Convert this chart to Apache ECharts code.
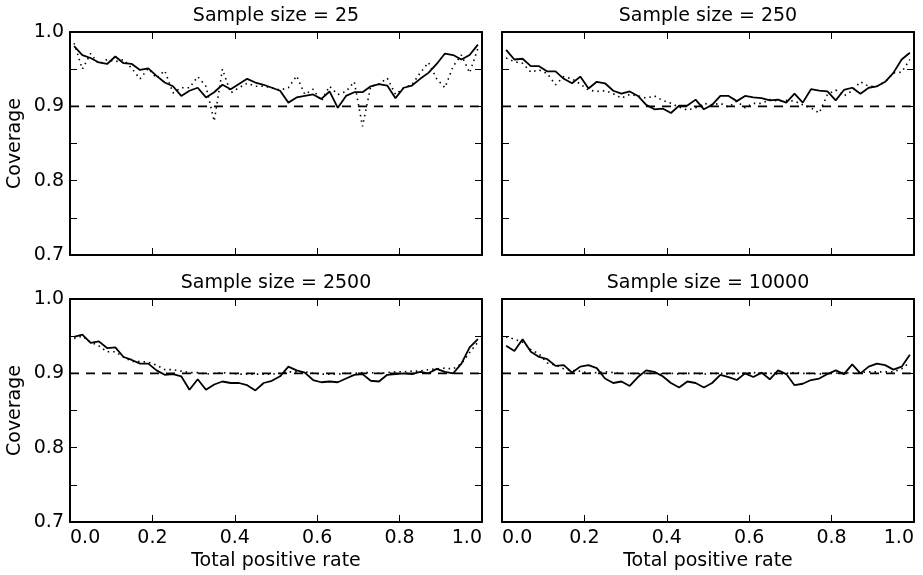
<!DOCTYPE html>
<html>
<head>
<meta charset="utf-8">
<script src="https://cdn.jsdelivr.net/npm/echarts@6/dist/echarts.min.js"></script>
<style>
  html, body { margin: 0; padding: 0; background: #fff; }
  #chart { width: 923px; height: 575px; }
</style>
</head>
<body>
<div id="chart"></div>
<script>
// total positive rate (x values)
const rate = [0.01, 0.03, 0.05, 0.07, 0.09, 0.11, 0.13, 0.15, 0.17, 0.19,
  0.21, 0.23, 0.25, 0.27, 0.29, 0.31, 0.33, 0.35, 0.37, 0.39,
  0.41, 0.43, 0.45, 0.47, 0.49, 0.51, 0.53, 0.55, 0.57, 0.59,
  0.61, 0.63, 0.65, 0.67, 0.69, 0.71, 0.73, 0.75, 0.77, 0.79,
  0.81, 0.83, 0.85, 0.87, 0.89, 0.91, 0.93, 0.95, 0.97, 0.99];

const sampleSizes = ['25', '250', '2500', '10000'];
const nominal = 0.9;
const xTicks = [0, 0.2, 0.4, 0.6, 0.8, 1.0];
const yTicks = [0.7, 0.8, 0.9, 1.0];

// coverage, sample size 25
const s25Solid = [0.981, 0.969, 0.965, 0.959, 0.957, 0.967, 0.958, 0.957, 0.949, 0.951,
  0.941, 0.932, 0.927, 0.914, 0.921, 0.925, 0.912, 0.919, 0.929, 0.923,
  0.930, 0.937, 0.932, 0.929, 0.925, 0.921, 0.905, 0.912, 0.914, 0.916,
  0.910, 0.920, 0.898, 0.914, 0.919, 0.919, 0.927, 0.930, 0.928, 0.911,
  0.925, 0.928, 0.937, 0.945, 0.957, 0.971, 0.969, 0.963, 0.969, 0.983];
const s25Dotted = [0.985, 0.950, 0.971, 0.957, 0.963, 0.960, 0.963, 0.951, 0.937, 0.951,
  0.938, 0.948, 0.918, 0.925, 0.925, 0.940, 0.927, 0.880, 0.950, 0.918,
  0.925, 0.931, 0.927, 0.927, 0.925, 0.922, 0.925, 0.941, 0.916, 0.923,
  0.907, 0.927, 0.916, 0.920, 0.933, 0.873, 0.927, 0.930, 0.938, 0.916,
  0.925, 0.929, 0.945, 0.959, 0.937, 0.925, 0.954, 0.969, 0.945, 0.978];

// sample size 250
const s250Solid = [0.976, 0.963, 0.964, 0.954, 0.954, 0.947, 0.947, 0.937, 0.931, 0.940,
  0.924, 0.933, 0.931, 0.921, 0.917, 0.920, 0.914, 0.902, 0.896, 0.897,
  0.891, 0.901, 0.901, 0.909, 0.896, 0.902, 0.914, 0.914, 0.907, 0.914,
  0.912, 0.911, 0.908, 0.909, 0.905, 0.917, 0.905, 0.923, 0.921, 0.920,
  0.908, 0.922, 0.925, 0.917, 0.925, 0.927, 0.933, 0.945, 0.963, 0.972];
const s250Dotted = [0.965, 0.960, 0.958, 0.946, 0.949, 0.944, 0.929, 0.940, 0.937, 0.930,
  0.922, 0.920, 0.921, 0.917, 0.911, 0.916, 0.914, 0.911, 0.914, 0.908,
  0.904, 0.899, 0.895, 0.898, 0.904, 0.902, 0.904, 0.899, 0.907, 0.898,
  0.904, 0.904, 0.909, 0.907, 0.908, 0.907, 0.902, 0.898, 0.891, 0.916,
  0.922, 0.914, 0.921, 0.933, 0.927, 0.927, 0.933, 0.945, 0.946, 0.963];

// sample size 2500
const s2500Solid = [0.949, 0.952, 0.941, 0.943, 0.934, 0.935, 0.922, 0.918, 0.913, 0.913,
  0.904, 0.898, 0.899, 0.896, 0.878, 0.892, 0.878, 0.885, 0.889, 0.887,
  0.887, 0.884, 0.877, 0.887, 0.890, 0.896, 0.909, 0.904, 0.901, 0.891,
  0.888, 0.889, 0.888, 0.893, 0.898, 0.899, 0.890, 0.889, 0.898, 0.899,
  0.900, 0.899, 0.902, 0.900, 0.906, 0.902, 0.900, 0.913, 0.935, 0.946];
const s2500Dotted = [0.947, 0.950, 0.942, 0.937, 0.929, 0.929, 0.922, 0.916, 0.916, 0.915,
  0.911, 0.905, 0.905, 0.903, 0.901, 0.901, 0.899, 0.900, 0.901, 0.900,
  0.899, 0.899, 0.899, 0.899, 0.899, 0.900, 0.902, 0.902, 0.902, 0.900,
  0.899, 0.899, 0.899, 0.900, 0.900, 0.901, 0.901, 0.900, 0.901, 0.902,
  0.902, 0.903, 0.903, 0.905, 0.906, 0.907, 0.906, 0.913, 0.928, 0.942];

// sample size 10000
const s10000Solid = [0.937, 0.930, 0.946, 0.929, 0.922, 0.919, 0.910, 0.911, 0.901, 0.909,
  0.911, 0.907, 0.893, 0.887, 0.889, 0.883, 0.895, 0.904, 0.902, 0.896,
  0.887, 0.881, 0.889, 0.887, 0.881, 0.887, 0.898, 0.895, 0.891, 0.900,
  0.895, 0.901, 0.892, 0.904, 0.899, 0.884, 0.886, 0.891, 0.893, 0.899,
  0.904, 0.899, 0.912, 0.900, 0.909, 0.913, 0.911, 0.905, 0.909, 0.925];
const s10000Dotted = [0.949, 0.946, 0.942, 0.932, 0.926, 0.914, 0.911, 0.906, 0.904, 0.903,
  0.900, 0.901, 0.902, 0.901, 0.900, 0.900, 0.899, 0.900, 0.900, 0.899,
  0.900, 0.899, 0.900, 0.900, 0.899, 0.900, 0.900, 0.899, 0.900, 0.900,
  0.901, 0.900, 0.900, 0.899, 0.900, 0.901, 0.900, 0.900, 0.899, 0.900,
  0.900, 0.901, 0.900, 0.901, 0.902, 0.902, 0.902, 0.902, 0.906, 0.915];

const solidData = [s25Solid, s250Solid, s2500Solid, s10000Solid];
const dottedData = [s25Dotted, s250Dotted, s2500Dotted, s10000Dotted];

const FONT = 'DejaVu Sans';
const FS = 19;
const gridPos = [[70, 32], [502, 32], [70, 299], [502, 299]];

function pairs(ys) {
    return rate.map(function (x, i) { return [x, ys[i]]; });
}

let grid = [], xAxis = [], yAxis = [], series = [];
const line = { onZero: false, lineStyle: { color: '#000', width: 2 } };
const tick = { inside: true, length: 7, lineStyle: { color: '#000', width: 1 } };
const nameStyle = { fontFamily: FONT, fontSize: FS, color: '#000' };

sampleSizes.forEach(function (size, i) {
    let row = Math.floor(i / 2), col = i % 2;
    grid.push({ left: gridPos[i][0], top: gridPos[i][1], width: 412, height: 223 });

    let xBase = {
        gridIndex: i, type: 'value',
        min: xTicks[0], max: xTicks[xTicks.length - 1], interval: 0.2,
        axisLine: line, axisTick: tick, splitLine: { show: false }
    };
    xAxis.push(Object.assign({}, xBase, {
        position: 'bottom',
        name: row === 1 ? 'Total positive rate' : '',
        nameLocation: 'middle', nameGap: 30, nameTextStyle: nameStyle,
        axisLabel: {
            show: row === 1, margin: 7, fontFamily: FONT, fontSize: FS, color: '#000',
            alignMinLabel: 'left', alignMaxLabel: 'right',
            formatter: function (v) { return v.toFixed(1); }
        }
    }));
    xAxis.push(Object.assign({}, xBase, {
        position: 'top',
        name: 'Sample size = ' + size,
        nameLocation: 'middle', nameGap: 6, nameTextStyle: nameStyle,
        axisLabel: { show: false }
    }));

    let yBase = {
        gridIndex: i, type: 'value',
        min: yTicks[0], max: yTicks[yTicks.length - 1], interval: 0.1,
        axisLine: line, axisTick: tick,
        minorTick: { show: true, splitNumber: 2, length: 7, lineStyle: { color: '#000', width: 1 } },
        splitLine: { show: false }, minorSplitLine: { show: false }
    };
    yAxis.push(Object.assign({}, yBase, {
        position: 'left',
        name: col === 0 ? 'Coverage' : '',
        nameLocation: 'middle', nameGap: 45, nameTextStyle: nameStyle,
        axisLabel: {
            show: col === 0, margin: 6, fontFamily: FONT, fontSize: FS, color: '#000',
            formatter: function (v) { return v.toFixed(1); }
        }
    }));
    yAxis.push(Object.assign({}, yBase, { position: 'right', axisLabel: { show: false } }));

    series.push({
        type: 'line', xAxisIndex: 2 * i, yAxisIndex: 2 * i,
        data: pairs(solidData[i]), showSymbol: false,
        lineStyle: { color: '#000', width: 1.8 }
    });
    series.push({
        type: 'line', xAxisIndex: 2 * i, yAxisIndex: 2 * i,
        data: pairs(dottedData[i]), showSymbol: false,
        lineStyle: { color: '#000', width: 1.6, type: [1.5, 4] }
    });
    series.push({
        type: 'line', xAxisIndex: 2 * i, yAxisIndex: 2 * i,
        data: [[xTicks[0], nominal], [xTicks[xTicks.length - 1], nominal]], showSymbol: false,
        lineStyle: { color: '#000', width: 1.8, type: [9, 7] }
    });
});

let option = {
    animation: false,
    backgroundColor: '#fff',
    grid: grid,
    xAxis: xAxis,
    yAxis: yAxis,
    series: series
};
let myChart = echarts.init(document.getElementById('chart'));
myChart.setOption(option, true);
window.addEventListener('resize', function () {
    myChart.resize();
});
</script>
</body>
</html>
